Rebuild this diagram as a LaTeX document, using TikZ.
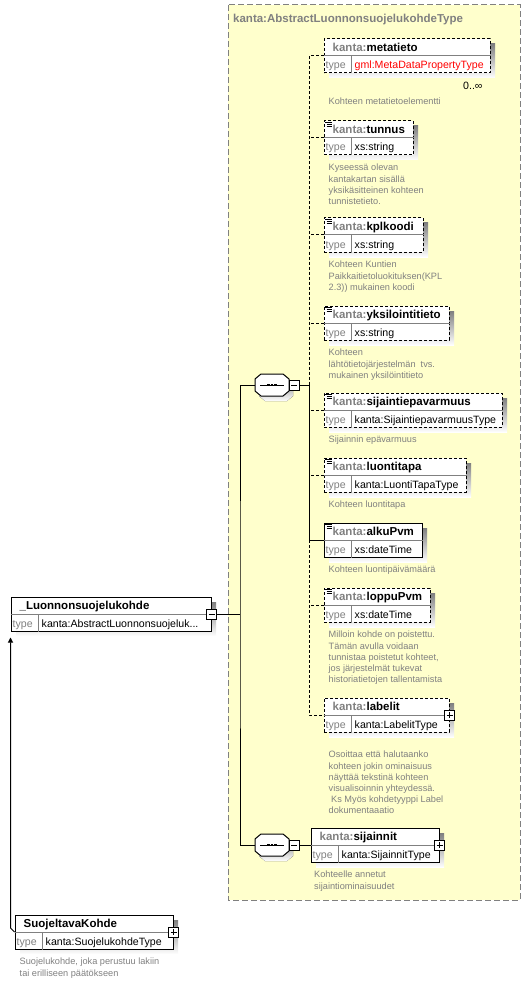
\documentclass[tikz,border=0pt]{standalone}
\usepackage{fontspec}
\setmainfont{Liberation Sans}
\usepackage{tikz}
\usetikzlibrary{arrows.meta, calc}

\definecolor{nsgray}{HTML}{808080}
\definecolor{shade}{HTML}{C0C0C0}
\definecolor{ctbg}{HTML}{FFFFCC}
\definecolor{gmlred}{HTML}{FF0000}

\tikzset{
    elbox/.style={draw, fill=white, rectangle, inner sep=0pt, minimum height=34pt, line width=1pt},
    optbox/.style={elbox, dash pattern=on 3pt off 2pt},
    optline/.style={line width=1pt, dash pattern=on 3pt off 2pt},
    solidline/.style={line width=1pt},
    sepline/.style={nsgray, line width=1pt},
    elname/.style={inner sep=0pt, anchor=base west, font=\fontsize{11.5}{13}\selectfont\bfseries},
    eltype/.style={inner sep=0pt, anchor=base west, font=\fontsize{10.6}{12}\selectfont},
    eldoc/.style={inner sep=0pt, anchor=north west, align=left, text=nsgray, font=\fontsize{9.2}{11.2}\selectfont},
    pmbox/.style={draw, fill=white, rectangle, inner sep=0pt, minimum size=10pt, line width=0.8pt},
    seqbox/.style={rectangle, inner sep=0pt, minimum width=34pt, minimum height=22pt}
}

% element box: name, left, top, right, box style, prefix, local name, type
\newcommand{\xsdel}[8]{%
    \fill[shade] ({#2+5},{#3+5}) rectangle ({#4+5},{#3+39});
    \node[#5, minimum width={#4-#2}] (#1) at ({(#2+#4)/2},{#3+17}) {};
    \draw[sepline] (#1.west) -- (#1.east);
    \draw[sepline] ($(#1.west)+(28,0)$) -- ($(#1.south west)+(28,0)$);
    \node[elname] (#1-name) at ($(#1.north west)+(9,13)$) {\textcolor{nsgray}{#6}#7};
    \node[eltype, text=nsgray] (#1-kw) at ($(#1.north west)+(2,30.5)$) {type};
    \node[eltype] (#1-type) at ($(#1.north west)+(31,30.5)$) {#8};
}
% simple content icon
\newcommand{\xsdicon}[1]{%
    \draw[line width=0.8pt] ($(#1.north west)+(1.5,2)$) -- ++(6.5,0)
        ($(#1.north west)+(3,4)$) -- ++(5,0) ($(#1.north west)+(3,6)$) -- ++(5,0);
}
% expand box on the right edge
\newcommand{\xsdplus}[1]{%
    \node[pmbox] (#1-p) at (#1.east) {};
    \draw[line width=0.8pt] ($(#1-p)+(-3,0)$) -- ($(#1-p)+(3,0)$)
        ($(#1-p)+(0,-3)$) -- ($(#1-p)+(0,3)$);
}
% sequence compositor: name, centre x, centre y
\newcommand{\xsdseq}[3]{%
    \fill[shade] ({#2-7},{#3-6}) -- ({#2+15},{#3-6}) -- ({#2+21},{#3-1}) -- ({#2+21},{#3+11})
        -- ({#2+15},{#3+16}) -- ({#2-7},{#3+16}) -- ({#2-13},{#3+11}) -- ({#2-13},{#3-1}) -- cycle;
    \node[seqbox] (#1) at (#2,#3) {};
    \draw[solidline, fill=white] ({#2-11},{#3-11}) -- ({#2+11},{#3-11}) -- ({#2+17},{#3-6}) -- ({#2+17},{#3+6})
        -- ({#2+11},{#3+11}) -- ({#2-11},{#3+11}) -- ({#2-17},{#3+6}) -- ({#2-17},{#3-6}) -- cycle;
    \draw[solidline] ({#2-12},#3) -- ({#2+12},#3);
    \foreach \dx in {-3.6,0,3.6}
        \fill ({#2+\dx-1.4},{#3-1.4}) rectangle ++(2.8,2.8);
    \node[pmbox] (#1-m) at ({#2+22},#3) {};
    \draw[line width=0.8pt] ({#2+19},#3) -- ({#2+25},#3);
}

\begin{document}
\begin{tikzpicture}[x=1pt, y=-1pt]
    \useasboundingbox (0,0) rectangle (531,984);
    % complex type area
    \fill[ctbg] (228,5) rectangle (520,900);
    \draw[nsgray, line width=1pt, dash pattern=on 6pt off 3pt] (228,5) rectangle (520,900);
    \node[elname, text=nsgray] (ct-title) at (233,22.5) {kanta:AbstractLuonnonsuojelukohdeType};

    \coordinate (busA) at (309,385);
    \coordinate (busL) at (240,614);

    \xsdseq{seqA}{272}{385}
    \xsdseq{seqB}{272}{845}

    \xsdel{metatieto}{324}{39}{490}{optbox}{kanta:}{metatieto}{\textcolor{gmlred}{gml:MetaDataPropertyType}}
    \xsdel{tunnus}{324}{121}{413}{optbox}{kanta:}{tunnus}{xs:string}
    \xsdel{kplkoodi}{324}{218}{423}{optbox}{kanta:}{kplkoodi}{xs:string}
    \xsdel{yksilointitieto}{324}{306}{449}{optbox}{kanta:}{yksilointitieto}{xs:string}
    \xsdel{sijaintiepavarmuus}{324}{393}{502}{optbox}{kanta:}{sijaintiepavarmuus}{kanta:SijaintiepavarmuusType}
    \xsdel{luontitapa}{324}{458}{466}{optbox}{kanta:}{luontitapa}{kanta:LuontiTapaType}
    \xsdel{alkuPvm}{324}{523}{422}{elbox}{kanta:}{alkuPvm}{xs:dateTime}
    \xsdel{loppuPvm}{324}{588}{430}{optbox}{kanta:}{loppuPvm}{xs:dateTime}
    \xsdel{labelit}{324}{698}{449}{optbox}{kanta:}{labelit}{kanta:LabelitType}
    \xsdel{sijainnit}{311}{828}{439}{elbox}{kanta:}{sijainnit}{kanta:SijainnitType}
    \xsdel{luon}{11}{597}{211}{elbox}{}{\_Luonnonsuojelukohde}{kanta:AbstractLuonnonsuojeluk...}
    \xsdel{suoj}{15}{915}{173}{elbox}{}{SuojeltavaKohde}{kanta:SuojelukohdeType}

    \foreach \el in {tunnus, kplkoodi, yksilointitieto, sijaintiepavarmuus, luontitapa, alkuPvm, loppuPvm}
        \xsdicon{\el}
    \xsdplus{labelit}
    \xsdplus{sijainnit}
    \xsdplus{suoj}
    \node[pmbox] (luon-m) at (luon.east) {};
    \draw[line width=0.8pt] ($(luon-m)+(-3,0)$) -- ($(luon-m)+(3,0)$);

    \node[eltype] (metatieto-occ) at (463,90) {0..∞};

    % connectors
    \draw[solidline] (seqA-m.east) -- (busA);
    \draw[optline] (metatieto.west) -| (busA);
    \foreach \el in {tunnus, kplkoodi, yksilointitieto, sijaintiepavarmuus, luontitapa, loppuPvm}
        \draw[optline] (\el.west) -- (\el.west -| busA);
    \draw[solidline] (busA) |- (alkuPvm.west);
    \draw[optline] (alkuPvm.west -| busA) |- (labelit.west);
    \draw[solidline] (luon-m.east) -- (busL);
    \draw[solidline] (seqA.west) -| (busL) |- (seqB.west);
    \draw[solidline] (seqB-m.east) -- (sijainnit.west);
    \coordinate (luon-foot) at ($(luon.south west)+(0,6)$);
    \coordinate (suoj-bend) at ($(luon-foot |- suoj.west)+(0,-4)$);
    \draw[solidline, -{Triangle[width=5pt,length=5pt]}] (suoj.west) -- (suoj-bend) -- (luon-foot);

    % annotations
    \node[eldoc] (metatieto-doc) at ($(metatieto.south west)+(5,24)$) {Kohteen metatietoelementti};
    \node[eldoc] (tunnus-doc) at ($(tunnus.south west)+(5,8.5)$) {Kyseessä olevan\\kantakartan sisällä\\yksikäsitteinen kohteen\\tunnistetieto.};
    \node[eldoc] (kplkoodi-doc) at ($(kplkoodi.south west)+(5,8.5)$) {Kohteen Kuntien\\Paikkaitietoluokituksen(KPL\\2.3)) mukainen koodi};
    \node[eldoc] (yksilointitieto-doc) at ($(yksilointitieto.south west)+(5,8.5)$) {Kohteen\\lähtötietojärjestelmän~ tvs.\\mukainen yksilöintitieto};
    \node[eldoc] (sijaintiepavarmuus-doc) at ($(sijaintiepavarmuus.south west)+(5,8.5)$) {Sijainnin epävarmuus};
    \node[eldoc] (luontitapa-doc) at ($(luontitapa.south west)+(5,8.5)$) {Kohteen luontitapa};
    \node[eldoc] (alkuPvm-doc) at ($(alkuPvm.south west)+(5,8.5)$) {Kohteen luontipäivämäärä};
    \node[eldoc] (loppuPvm-doc) at ($(loppuPvm.south west)+(5,8.5)$) {Milloin kohde on poistettu.\\Tämän avulla voidaan\\tunnistaa poistetut kohteet,\\jos järjestelmät tukevat\\historiatietojen tallentamista};
    \node[eldoc] (labelit-doc) at ($(labelit.south west)+(5,18.5)$) {Osoittaa että halutaanko\\kohteen jokin ominaisuus\\näyttää tekstinä kohteen\\visualisoinnin yhteydessä.\\\hspace*{2.5pt}Ks Myös kohdetyyppi Label\\dokumentaaatio};
    \node[eldoc] (sijainnit-doc) at ($(sijainnit.south west)+(3.5,8.5)$) {Kohteelle annetut\\sijaintiominaisuudet};
    \node[eldoc] (suoj-doc) at ($(suoj.south west)+(5,8.5)$) {Suojelukohde, joka perustuu lakiin\\tai erilliseen päätökseen};
\end{tikzpicture}
\end{document}
